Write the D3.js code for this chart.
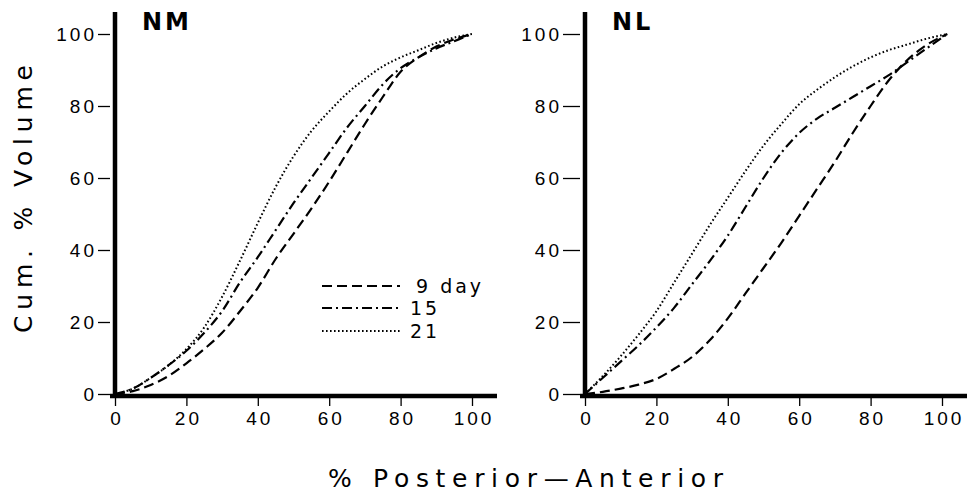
<!DOCTYPE html>
<html>
<head>
<meta charset="utf-8">
<script src="https://cdn.jsdelivr.net/npm/d3@7"></script>
<style>
  body { margin: 0; background: #fff; }
  svg { display: block; font-family: "DejaVu Sans", "Liberation Sans", sans-serif; }
</style>
</head>
<body>
<svg id="chart" width="967" height="493"></svg>
<script>
// Data
const posNM = [0, 5, 10, 15, 20, 25, 30, 35, 40, 45, 50, 55, 60, 65, 70, 75, 80, 85, 90, 95, 100];
const posNL = [0, 5, 10, 15, 20, 25, 30, 35, 40, 45, 50, 55, 60, 65, 70, 75, 80, 85, 90, 95, 101.5];

const nm9  = [0, 0.8, 2.5, 5, 8.5, 12.5, 17, 23, 29.5, 37.5, 44.5, 51.5, 59, 67, 75, 82.5, 89.5, 93.5, 96.5, 98.5, 100];
const nm15 = [0, 1.5, 4.5, 8, 12, 17, 23, 31, 38, 45.5, 53, 60, 67, 74, 80, 86, 90.5, 93.5, 96, 98, 100];
const nm21 = [0, 1.5, 4.5, 8, 12.5, 18.5, 27, 37, 47.5, 57.5, 66, 73, 78.5, 83.5, 87.5, 91, 93.5, 95.5, 97.5, 99, 100];

const nl9  = [0, 0.6, 1.5, 2.6, 4.2, 7, 10.3, 15, 21, 28, 35, 42, 49.5, 57, 64.5, 72.5, 80, 87, 92.5, 96.5, 100];
const nl15 = [0, 4.5, 9, 13.5, 18.5, 24, 30.5, 37, 44, 52, 60, 67, 72.5, 76.5, 79.5, 82.5, 85.5, 88.5, 92, 95.5, 100];
const nl21 = [0, 5, 10.5, 16.5, 23, 31, 39, 47, 54.5, 62, 69, 75, 80.5, 84.5, 88, 91, 93.5, 95.5, 97, 98.5, 100];

const seriesNames = ['9 day', '15', '21'];
const xTicks = [0, 20, 40, 60, 80, 100];
const yTicks = [0, 20, 40, 60, 80, 100];

const dashes = ['10,5', '10,4,2,4', '1.6,2.4'];

const svg = d3.select('#chart');

const y = d3.scaleLinear().domain([0, 100]).range([394, 34]);

function drawPanel(title, x0, pos, series, tickLen, showLegend) {
  const x = d3.scaleLinear().domain([0, 100]).range([x0, x0 + 357]);
  const g = svg.append('g');

  // y ticks
  const yAxis = g.append('g')
    .attr('transform', `translate(${x0 - 5},0)`)
    .call(d3.axisLeft(y).tickValues(yTicks).tickSize(tickLen).tickPadding(1));
  yAxis.select('.domain').remove();
  yAxis.selectAll('line').attr('stroke', '#000').attr('stroke-width', 1.3);
  yAxis.selectAll('text')
    .attr('fill', '#000')
    .style('font-size', '19px')
    .style('letter-spacing', '3px');

  // x ticks
  const xAxis = g.append('g')
    .attr('transform', 'translate(0,398)')
    .call(d3.axisBottom(x).tickValues(xTicks).tickSize(8).tickPadding(6));
  xAxis.select('.domain').remove();
  xAxis.selectAll('line').attr('stroke', '#000').attr('stroke-width', 1.3);
  xAxis.selectAll('text')
    .attr('fill', '#000')
    .attr('dx', '1.5px')
    .style('font-size', '19px')
    .style('letter-spacing', '3px');

  // thick axis lines
  g.append('line')
    .attr('x1', x0).attr('x2', x0)
    .attr('y1', 12).attr('y2', 398)
    .attr('stroke', '#000').attr('stroke-width', 4.5);
  g.append('line')
    .attr('x1', x0 - 5).attr('x2', x0 + 382)
    .attr('y1', 396).attr('y2', 396)
    .attr('stroke', '#000').attr('stroke-width', 4.5);

  // panel title
  g.append('text')
    .attr('x', x0 + 27)
    .attr('y', 30)
    .attr('font-size', '24px')
    .attr('font-weight', 'bold')
    .style('letter-spacing', '3px')
    .text(title);

  const line = d3.line()
    .x(d => x(d[0]))
    .y(d => y(d[1]))
    .curve(d3.curveMonotoneX);

  series.forEach((vals, i) => {
    g.append('path')
      .datum(pos.map((p, j) => [p, vals[j]]))
      .attr('d', line)
      .attr('fill', 'none')
      .attr('stroke', '#000')
      .attr('stroke-width', i === 2 ? 2 : 2.2)
      .attr('stroke-dasharray', dashes[i]);
  });

  if (showLegend) {
    const legendY = [286, 308, 331];
    seriesNames.forEach((name, i) => {
      g.append('line')
        .attr('x1', 322).attr('x2', 400)
        .attr('y1', legendY[i]).attr('y2', legendY[i])
        .attr('stroke', '#000')
        .attr('stroke-width', i === 2 ? 2 : 2.2)
        .attr('stroke-dasharray', dashes[i]);
      g.append('text')
        .attr('x', i === 0 ? 416 : 410)
        .attr('y', legendY[i] + 7)
        .style('font-size', '19px')
        .style('letter-spacing', '3px')
        .text(name);
    });
  }
}

drawPanel('NM', 115, posNM, [nm9, nm15, nm21], 12, true);
drawPanel('NL', 585, posNL, [nl9, nl15, nl21], 17, false);

// shared axis titles
svg.append('text')
  .attr('x', 328)
  .attr('y', 487)
  .attr('textLength', 395)
  .attr('lengthAdjust', 'spacing')
  .style('font-size', '25px')
  .text('% Posterior\u2014Anterior');

svg.append('text')
  .attr('transform', 'translate(32,333) rotate(-90)')
  .attr('textLength', 268)
  .attr('lengthAdjust', 'spacing')
  .style('font-size', '25px')
  .text('Cum. % Volume');
</script>
</body>
</html>
